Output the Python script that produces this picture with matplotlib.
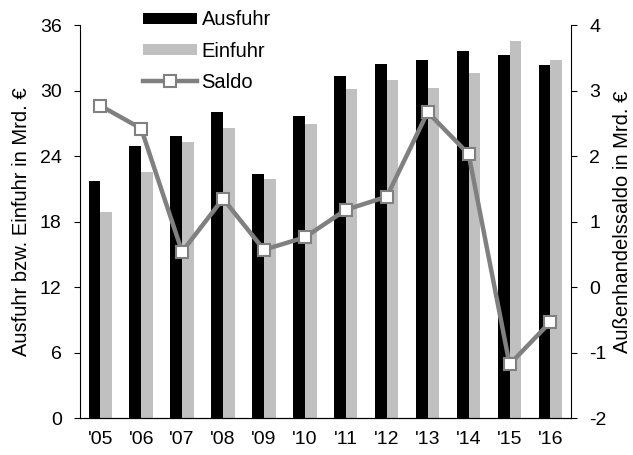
import matplotlib.pyplot as plt
import numpy as np

plt.rcParams['font.family'] = ['Liberation Sans', 'DejaVu Sans']
plt.rcParams['axes.unicode_minus'] = False

years = ["'05", "'06", "'07", "'08", "'09", "'10", "'11", "'12", "'13", "'14", "'15", "'16"]
ausfuhr = [21.7, 24.9, 25.8, 28.0, 22.4, 27.7, 31.3, 32.4, 32.8, 33.6, 33.3, 32.3]
einfuhr = [18.9, 22.5, 25.3, 26.6, 21.9, 26.9, 30.1, 31.0, 30.2, 31.6, 34.5, 32.8]
saldo = [2.77, 2.42, 0.54, 1.35, 0.57, 0.76, 1.18, 1.38, 2.67, 2.03, -1.18, -0.53]

fig = plt.figure(figsize=(6.33, 4.55), dpi=100)
ax = fig.add_axes([0.126, 0.081, 0.776, 0.864])
ax2 = ax.twinx()

x = np.arange(len(years))
w = 0.285
b1 = ax.bar(x - w / 2, ausfuhr, w, color='black')
b2 = ax.bar(x + w / 2, einfuhr, w, color='#c0c0c0')
l1, = ax2.plot(x, saldo, color='#808080', lw=3.2, marker='s', ms=9,
               mfc='white', mec='#808080', mew=1.5)

ax.set_xlim(-0.5, 11.5)
ax.set_ylim(0, 36)
ax.set_yticks(range(0, 37, 6))
ax2.set_ylim(-2, 4)
ax2.set_yticks(range(-2, 5))

ax.set_xticks(x)
ax.set_xticklabels(years)
ax.tick_params(axis='x', length=0, labelsize=14, pad=9)
ax.tick_params(axis='y', labelsize=14, length=4, direction='out', pad=9)
ax2.tick_params(axis='y', labelsize=14, length=4, direction='out', pad=9)

for a in (ax, ax2):
    a.spines['top'].set_visible(False)
ax.spines['right'].set_visible(False)
ax2.spines['left'].set_visible(False)

ax.set_ylabel('Ausfuhr bzw. Einfuhr in Mrd. €', fontsize=14.5, labelpad=6)
ax2.set_ylabel('Außenhandelssaldo in Mrd. €', fontsize=14.5, labelpad=5)

fig.legend([b1, b2, l1], ['Ausfuhr', 'Einfuhr', 'Saldo'], loc='upper left',
           bbox_to_anchor=(0.226, 0.977), frameon=False, fontsize=14.5,
           borderpad=0, borderaxespad=0, handlelength=2.7, handleheight=0.5,
           handletextpad=0.2, labelspacing=0.6)

fig.savefig('out.png', dpi=100)
